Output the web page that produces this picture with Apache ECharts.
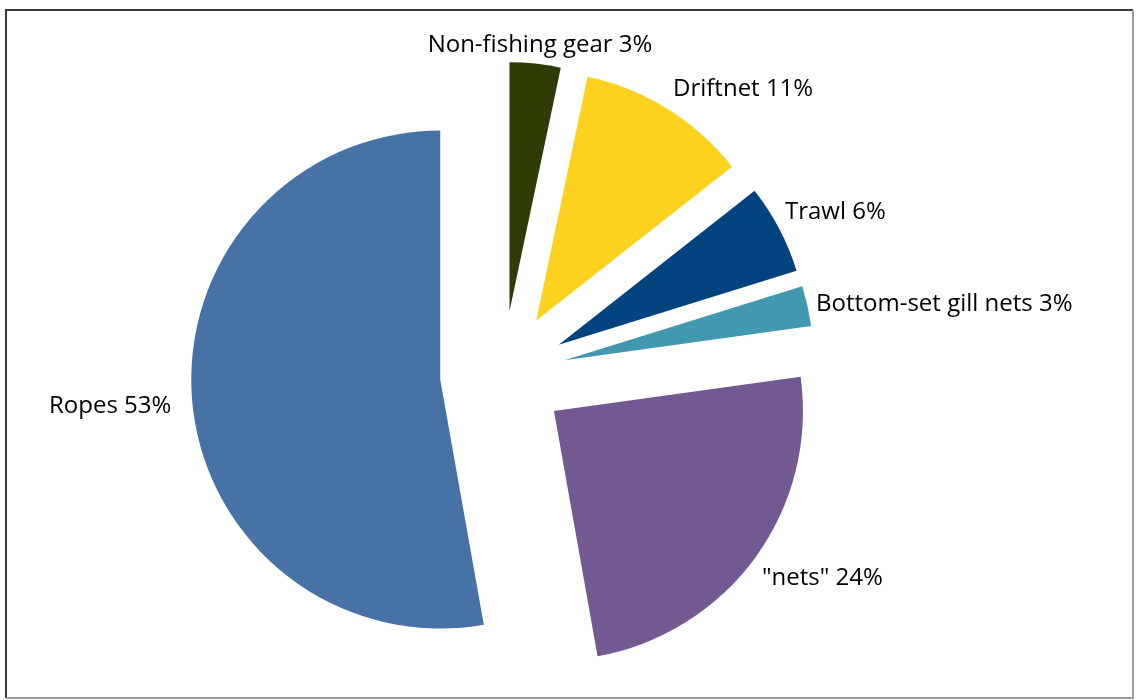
<!DOCTYPE html>
<html>
<head>
<meta charset="utf-8">
<script src="https://cdn.jsdelivr.net/npm/echarts@6/dist/echarts.min.js"></script>
<style>
  html, body { margin: 0; padding: 0; background: #fff; }
  #main { width: 1137px; height: 700px; }
</style>
</head>
<body>
<div id="main"></div>
<script>
// categories, clockwise from 12 o'clock
var names = ['Non-fishing gear', 'Driftnet', 'Trawl', 'Bottom-set gill nets', '"nets"', 'Ropes'];
// share in percent
var values = [3.3, 11.1, 5.8, 2.6, 24.4, 52.8];
var colors = ['#2f3c06', '#fdd21f', '#00437f', '#4298ae', '#725991', '#4672a6'];
// label anchor points (x, y) and alignment
var labelPos = [[540, 45, 'center'], [673, 89, 'left'], [785, 212, 'left'], [816, 304, 'left'], [762, 578, 'left'], [49, 406, 'left']];

var chart = echarts.init(document.getElementById('main'));

var total = 0;
for (var i = 0; i < values.length; i++) total += values[i];

var data = [];
var labels = [];
for (var i = 0; i < names.length; i++) {
  data.push({
    name: names[i],
    value: values[i],
    selected: true,
    itemStyle: { color: colors[i] }
  });
  // 标签单独画，位置照原图
  labels.push({
    type: 'text',
    x: labelPos[i][0],
    y: labelPos[i][1],
    style: {
      text: names[i] + ' ' + Math.round(values[i] / total * 100) + '%',
      fill: '#000',
      font: '24px "Open Sans"',
      align: labelPos[i][2],
      verticalAlign: 'middle'
    }
  });
}

var option = {
  animation: false,
  backgroundColor: '#fff',
  graphic: [
    { type: 'polyline', shape: { points: [[6, 698], [6, 10], [1133, 10]] }, style: { stroke: '#3a3a3a', lineWidth: 2, fill: null } },
    { type: 'polyline', shape: { points: [[1133, 10], [1133, 698], [6, 698]] }, style: { stroke: '#9a9a9a', lineWidth: 2, fill: null } }
  ].concat(labels),
  series: [{
    type: 'pie',
    center: [503, 374],
    radius: 249,
    startAngle: 90,
    clockwise: true,
    selectedMode: 'multiple',
    selectedOffset: 63,
    silent: true,
    data: data,
    label: { show: false },
    labelLine: { show: false },
    emphasis: { disabled: true }
  }]
};
chart.setOption(option);
</script>
</body>
</html>
